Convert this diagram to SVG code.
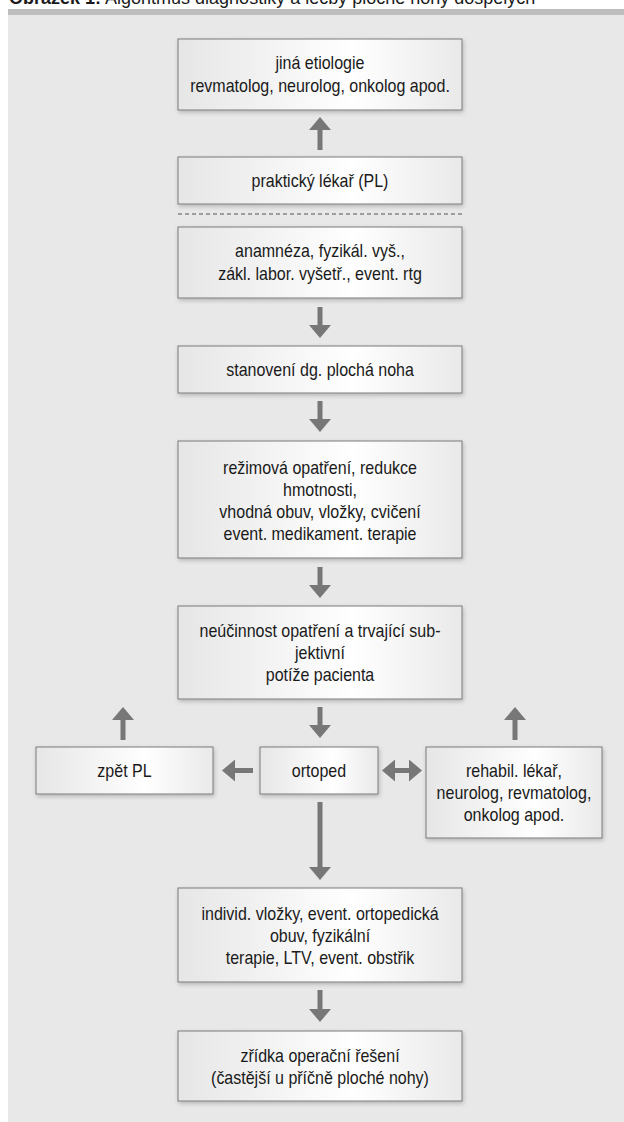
<svg xmlns="http://www.w3.org/2000/svg" width="624" height="1122" viewBox="0 0 624 1122">
  <defs>
    <linearGradient id="boxfill" x1="0" y1="0" x2="1" y2="0">
      <stop offset="0" stop-color="#e6e6e6"/>
      <stop offset="0.62" stop-color="#ffffff"/>
      <stop offset="1" stop-color="#e9e9e9"/>
    </linearGradient>
    <filter id="shadow" x="-10%" y="-20%" width="120%" height="150%">
      <feDropShadow dx="1" dy="2" stdDeviation="2" flood-color="#000" flood-opacity="0.22"/>
    </filter>
    <marker id="head" viewBox="0 0 13 22" refX="0" refY="11" markerWidth="13" markerHeight="22" markerUnits="userSpaceOnUse" orient="auto-start-reverse">
      <path d="M0,0 L13,11 L0,22 z" fill="#777777"/>
    </marker>
  </defs>
  <style>
    .box { fill: url(#boxfill); stroke: #7a7a7a; stroke-width: 1; filter: url(#shadow); }
    .t { font-family: "Liberation Sans", Arial, sans-serif; font-size: 18px; fill: #1a1a1a; text-anchor: middle; transform-box: fill-box; transform-origin: center; transform: scaleX(0.89); }
    .title { font-family: "Liberation Sans", Arial, sans-serif; font-size: 18px; fill: #1a1a1a; }
    .arr { stroke: #777777; stroke-width: 5; fill: none; marker-end: url(#head); }
    .darr { stroke: #777777; stroke-width: 5; fill: none; marker-end: url(#head); marker-start: url(#head); }
  </style>

  <rect x="0" y="0" width="624" height="1122" fill="#ffffff"/>
  <text class="title" x="9" y="3.5"><tspan font-weight="bold">Obrázek 1:</tspan> Algoritmus diagnostiky a léčby ploché nohy dospělých</text>
  <rect x="8" y="9" width="616" height="6" fill="#bdbdbd"/>
  <rect x="8" y="15" width="616" height="1107" fill="#e8e8e8"/>

  <g id="connectors">
    <line class="arr" x1="320" y1="150" x2="320" y2="130"/>
    <line x1="178" y1="214" x2="462" y2="214" stroke="#555555" stroke-width="1" stroke-dasharray="4 3"/>
    <line class="arr" x1="320" y1="307" x2="320" y2="325"/>
    <line class="arr" x1="320" y1="401" x2="320" y2="419"/>
    <line class="arr" x1="320" y1="567" x2="320" y2="585"/>
    <line class="arr" x1="320" y1="707" x2="320" y2="725"/>
    <line class="arr" x1="253" y1="770.5" x2="235" y2="770.5"/>
    <line class="darr" x1="395" y1="770.5" x2="409" y2="770.5"/>
    <line class="arr" x1="123" y1="740" x2="123" y2="720"/>
    <line class="arr" x1="515" y1="740" x2="515" y2="720"/>
    <line class="arr" x1="320" y1="802" x2="320" y2="867"/>
    <line class="arr" x1="320" y1="990" x2="320" y2="1009"/>
  </g>

  <g id="n1">
    <rect class="box" x="178" y="39" width="284" height="71"/>
    <text class="t" x="320" y="69">jiná etiologie</text>
    <text class="t" x="320" y="92">revmatolog, neurolog, onkolog apod.</text>
  </g>
  <g id="n2">
    <rect class="box" x="178" y="157" width="284" height="47"/>
    <text class="t" x="320" y="187">praktický lékař (PL)</text>
  </g>
  <g id="n3">
    <rect class="box" x="178" y="227" width="284" height="71"/>
    <text class="t" x="320" y="257">anamnéza, fyzikál. vyš.,</text>
    <text class="t" x="320" y="280">zákl. labor. vyšetř., event. rtg</text>
  </g>
  <g id="n4">
    <rect class="box" x="178" y="346" width="284" height="47"/>
    <text class="t" x="320" y="376">stanovení dg. plochá noha</text>
  </g>
  <g id="n5">
    <rect class="box" x="178" y="441" width="284" height="117"/>
    <text class="t" x="320" y="474">režimová opatření, redukce</text>
    <text class="t" x="320" y="496">hmotnosti,</text>
    <text class="t" x="320" y="518">vhodná obuv, vložky, cvičení</text>
    <text class="t" x="320" y="540">event. medikament. terapie</text>
  </g>
  <g id="n6">
    <rect class="box" x="178" y="606" width="284" height="93"/>
    <text class="t" x="320" y="637">neúčinnost opatření a trvající sub-</text>
    <text class="t" x="320" y="659">jektivní</text>
    <text class="t" x="320" y="681">potíže pacienta</text>
  </g>
  <g id="n7">
    <rect class="box" x="36" y="747" width="177" height="47"/>
    <text class="t" x="124.5" y="777">zpět PL</text>
  </g>
  <g id="n8">
    <rect class="box" x="260" y="747" width="118" height="47"/>
    <text class="t" x="319" y="777">ortoped</text>
  </g>
  <g id="n9">
    <rect class="box" x="426" y="747" width="176" height="91"/>
    <text class="t" x="514" y="777">rehabil. lékař,</text>
    <text class="t" x="514" y="799">neurolog, revmatolog,</text>
    <text class="t" x="514" y="821">onkolog apod.</text>
  </g>
  <g id="n10">
    <rect class="box" x="178" y="888" width="284" height="94"/>
    <text class="t" x="320" y="920">individ. vložky, event. ortopedická</text>
    <text class="t" x="320" y="942">obuv, fyzikální</text>
    <text class="t" x="320" y="964">terapie, LTV, event. obstřik</text>
  </g>
  <g id="n11">
    <rect class="box" x="178" y="1031" width="284" height="70"/>
    <text class="t" x="320" y="1062">zřídka operační řešení</text>
    <text class="t" x="320" y="1084">(častější u příčně ploché nohy)</text>
  </g>
</svg>
